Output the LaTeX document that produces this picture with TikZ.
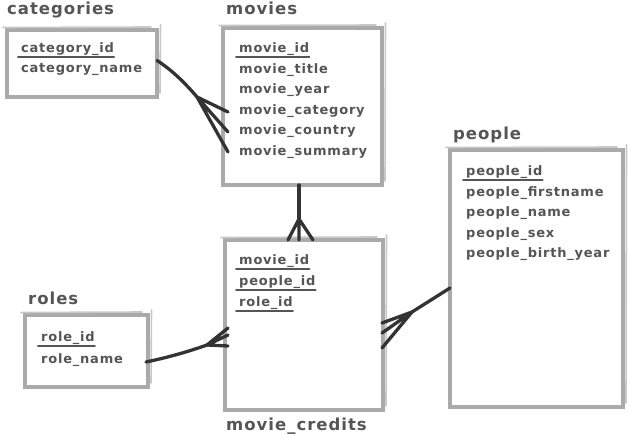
\documentclass[tikz,border=0pt]{standalone}
\usepackage{fontspec}
\setmainfont{DejaVu Sans}
\newfontfamily\skfont[LetterSpace=6]{DejaVu Sans}
\usetikzlibrary{calc}
\definecolor{txt}{HTML}{555555}
\definecolor{edgec}{HTML}{AAAAAA}
\definecolor{edgel}{HTML}{C8C8C8}
\definecolor{connc}{HTML}{333333}
\tikzset{
  tbl/.style={draw=edgec, line width=3.4pt, fill=white, anchor=north west, inner sep=0pt, outer sep=0pt},
  sk/.style={draw=edgel, line width=1.6pt, line cap=round},
  fld/.style={anchor=base west, inner sep=0pt, text=txt, font=\skfont\bfseries\fontsize{13}{13}\selectfont},
  ttl/.style={anchor=base west, inner sep=0pt, text=txt, font=\skfont\bfseries\fontsize{16.5}{16.5}\selectfont},
  ul/.style={draw=txt, line width=2pt, line cap=round},
  conn/.style={draw=connc, line width=3.3pt, line cap=round, line join=round}
}
\newcommand{\skbox}[1]{%
  \draw[sk] ($(#1.north west)+(-4,-2.5)$) -- ($(#1.north east)+(-6,-3)$);
  \draw[sk] ($(#1.north east)+(3.5,-5)$) -- ($(#1.south east)+(3,-4)$);
}
\newcommand{\uline}[1]{%
  \draw[ul] ($(#1.base west)+(-3,4)$) -- ($(#1.base east)+(0,4)$);
}
\begin{document}
\begin{tikzpicture}[x=1pt,y=-1pt]
\useasboundingbox (0,0) rectangle (629,435);

% tables
\node[tbl, minimum width=150pt, minimum height=67pt] (categories) at (7,30) {};
\node[tbl, minimum width=159pt, minimum height=157pt] (movies) at (223,28) {};
\node[tbl, minimum width=173pt, minimum height=257pt] (people) at (450,150) {};
\node[tbl, minimum width=158pt, minimum height=170pt] (credits) at (225,240) {};
\node[tbl, minimum width=123pt, minimum height=72pt] (roles) at (25,315) {};
\skbox{categories}\skbox{movies}\skbox{people}\skbox{credits}\skbox{roles}

% titles
\node[ttl] (tcat) at (7,15) {categories};
\node[ttl] (tmov) at (226,15) {movies};
\node[ttl] (tpeo) at (453,140) {people};
\node[ttl] (tcre) at (226,430) {movie\_credits};
\node[ttl] (trol) at (28,305) {roles};

% categories fields
\node[fld] (c1) at (21,53) {category\_id};
\node[fld] (c2) at (21,73) {category\_name};
\uline{c1}

% movies fields
\node[fld] (m1) at (239,53) {movie\_id};
\node[fld] (m2) at (239,73.5) {movie\_title};
\node[fld] (m3) at (239,94) {movie\_year};
\node[fld] (m4) at (239,114.5) {movie\_category};
\node[fld] (m5) at (239,135) {movie\_country};
\node[fld] (m6) at (239,155.5) {movie\_summary};
\uline{m1}

% people fields
\node[fld] (p1) at (466,176) {people\_id};
\node[fld] (p2) at (466,196.5) {people\_firstname};
\node[fld] (p3) at (466,217) {people\_name};
\node[fld] (p4) at (466,237.5) {people\_sex};
\node[fld] (p5) at (466,258) {people\_birth\_year};
\uline{p1}

% movie_credits fields
\node[fld] (k1) at (239,265) {movie\_id};
\node[fld] (k2) at (239,286) {people\_id};
\node[fld] (k3) at (239,307) {role\_id};
\uline{k1}\uline{k2}\uline{k3}

% roles fields
\node[fld] (r1) at (41,342) {role\_id};
\node[fld] (r2) at (41,363) {role\_name};
\uline{r1}

% connector: categories -> movies
\coordinate (j1) at (197,97);
\coordinate (j1a) at (228,112);
\coordinate (j1b) at (228,132);
\coordinate (j1c) at (228,152);
\draw[conn] ($(categories.east)+(0,-3)$) .. controls (172,70) and (186,84) .. (j1);
\draw[conn] (j1) -- (j1a) (j1) -- (j1b) (j1) -- (j1c);

% connector: movies -> movie_credits
\coordinate (j2) at (299,219);
\coordinate (j2a) at (288,240);
\coordinate (j2b) at (299,240);
\coordinate (j2c) at (313,240);
\draw[conn] ($(movies.south)+(-3.5,0)$) -- (j2);
\draw[conn] (j2) -- (j2a) (j2) -- (j2b) (j2) -- (j2c);

% connector: roles -> movie_credits
\coordinate (j3) at (207,345);
\coordinate (j3a) at (228,328);
\coordinate (j3b) at (228,335);
\coordinate (j3c) at (228,346);
\draw[conn] ($(roles.east)+(-2,11)$) .. controls (170,357) and (190,351) .. (j3);
\draw[conn] (j3) -- (j3a) (j3) -- (j3b) (j3) -- (j3c);

% connector: people -> movie_credits
\coordinate (j4) at (412,312);
\coordinate (j4a) at (382,323);
\coordinate (j4b) at (382,333);
\coordinate (j4c) at (382,348);
\draw[conn] (people.west |- 0,288) -- (j4);
\draw[conn] (j4) -- (j4a) (j4) -- (j4b) (j4) -- (j4c);
\end{tikzpicture}
\end{document}
